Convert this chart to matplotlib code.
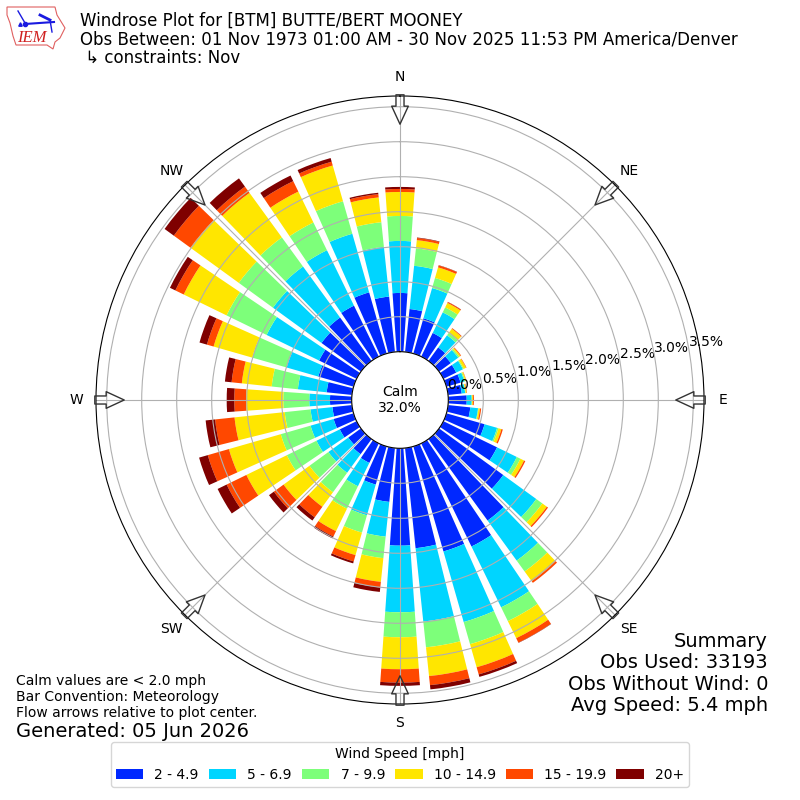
import numpy as np
import matplotlib
matplotlib.use('Agg')
import matplotlib.pyplot as plt
from matplotlib.lines import Line2D
from matplotlib.patches import Polygon

directions = list(range(0, 360, 10))
speed_labels = ['2 - 4.9', '5 - 6.9', '7 - 9.9', '10 - 14.9', '15 - 19.9', '20+']
speed_colors = ['#0028ff', '#00d5ff', '#7dff7a', '#ffe600', '#ff4800', '#7f0000']

# percent of obs by direction, one list per speed bin
speed_2_5 = [.839, .617, .524, .376, .239, .207, .204, .21, .196, .263, .32, .567,
             .853, 1.134, 1.439, 1.639, 1.561, 1.439, 1.391, .774, .567, .31, .267, .224,
             .267, .296, .281, .31, .363, .524, .596, .696, .767, .81, .91, .796]
speed_5_7 = [.743, .621, .45, .327, .214, .131, .106, .057, .05, .071, .111, .186,
             .314, .583, .707, .967, 1.049, 1.053, .951, .499, .457, .371, .329, .351,
             .371, .343, .314, .296, .414, .471, .834, .857, .9, .881, .871, .714]
speed_7_10 = [.357, .251, .15, .079, .04, .021, .014, .014, .007, .004, .007, .021,
              .057, .107, .193, .219, .329, .371, .357, .309, .257, .357, .343, .334,
              .471, .443, .371, .371, .376, .511, .637, .604, .514, .441, .483, .354]
speed_10_15 = [.343, .117, .157, .071, .074, .021, .036, .014, .014, .014, .021, .043,
               .057, .079, .171, .271, .343, .413, .457, .34, .334, .357, .257, .457,
               .643, .771, .721, .533, .429, .574, .681, .853, .786, .491, .531, .356]
speed_15_20 = [.043, .031, .029, .014, .011, .01, .007, .004, .006, .014, .017, .021,
               .021, .021, .029, .071, .106, .13, .191, .081, .094, .086, .186, .171,
               .314, .314, .279, .167, .147, .1, .133, .294, .111, .166, .057, .047]
speed_20_up = [.029, .007, .004, .003, .001, 0, 0, 0, 0, 0, 0, 0,
               0, 0, 0, .004, .037, .061, .047, .064, .029, .029, .057, .086,
               .143, .129, .136, .109, .096, .11, .086, .163, .146, .089, .054, .02]
speed_bins = [speed_2_5, speed_5_7, speed_7_10, speed_10_15, speed_15_20, speed_20_up]

ring_values = [0, .5, 1, 1.5, 2, 2.5, 3, 3.5]
compass = ['N', 'NE', 'E', 'SE', 'S', 'SW', 'W', 'NW']

fig = plt.figure(figsize=(8, 8), dpi=100)
ax = fig.add_axes([0.12, 0.12, 0.76, 0.76], projection='polar')
ax.set_theta_zero_location('N')
ax.set_theta_direction(-1)

theta = np.deg2rad(directions)
bottom = np.zeros(len(directions))
handles = []
for vals, color, label in zip(speed_bins, speed_colors, speed_labels):
    bars = ax.bar(theta, vals, width=np.deg2rad(8), bottom=bottom, color=color, label=label, lw=0)
    handles.append(bars)
    bottom = bottom + np.array(vals)

ax.set_rorigin(-0.69)
ax.set_ylim(0, 3.653)
ax.set_rlabel_position(80)
ax.set_yticks(ring_values)
ax.set_yticklabels([f'{v:.1f}%' for v in ring_values])
ax.set_xticks(np.deg2rad(np.arange(0, 360, 45)))
ax.set_xticklabels(compass)
ax.grid(True)

# flow arrows, pointing at the plot center
for ang in range(0, 360, 45):
    ax.annotate('', xy=(np.deg2rad(ang), 3.25), xytext=(np.deg2rad(ang), 3.67),
                arrowprops=dict(arrowstyle='simple,head_length=0.65,head_width=0.6,tail_width=0.29',
                                mutation_scale=20, fc='none', ec='#333333', lw=1,
                                shrinkA=0, shrinkB=0), annotation_clip=False)

ax.text(0.5, 0.5, 'Calm\n32.0%', transform=ax.transAxes, ha='center', va='center', fontsize=10)

fig.text(80 / 800, 1 - 12 / 800,
         'Windrose Plot for [BTM] BUTTE/BERT MOONEY\n'
         'Obs Between: 01 Nov 1973 01:00 AM - 30 Nov 2025 11:53 PM America/Denver\n'
         ' \u21b3 constraints: Nov', fontsize=12, va='top', linespacing=1.04)

fig.text(16 / 800, 1 - 674 / 800, 'Calm values are < 2.0 mph', fontsize=10, va='top')
fig.text(16 / 800, 1 - 690 / 800, 'Bar Convention: Meteorology', fontsize=10, va='top')
fig.text(16 / 800, 1 - 706 / 800, 'Flow arrows relative to plot center.', fontsize=10, va='top')
fig.text(16 / 800, 1 - 722 / 800, 'Generated: 05 Jun 2026', fontsize=14, va='top')

fig.text(768 / 800, 1 - 632 / 800, 'Summary\nObs Used: 33193\nObs Without Wind: 0\nAvg Speed: 5.4 mph',
         fontsize=14, ha='right', va='top', linespacing=1.15)

fig.legend(handles, speed_labels, ncol=6, loc='lower center', bbox_to_anchor=(0.5, 0.008),
           title='Wind Speed [mph]', fontsize=10, title_fontsize=10, columnspacing=0.7, borderpad=0.35)

# IEM logo
logo = fig.add_axes([0, 1 - 52 / 800, 70 / 800, 52 / 800])
logo.set_xlim(0, 70)
logo.set_ylim(52, 0)
logo.axis('off')
outline = [(7, 7), (55, 7), (57, 15), (65, 28), (60, 38), (55, 42), (53, 49), (47, 45), (16, 45), (13, 36), (10, 23), (7, 15)]
logo.add_patch(Polygon(outline, closed=True, fc='white', ec='#e06060', lw=0.8))
logo.add_line(Line2D([25, 54], [24, 22], color='#1a1ae0', lw=1.5))
logo.add_line(Line2D([40, 50], [15, 20], color='#1a1ae0', lw=2))
logo.add_line(Line2D([18, 25], [11, 23], color='#1a1ae0', lw=1))
logo.add_line(Line2D([50, 52], [20, 32], color='#1a1ae0', lw=1))
logo.plot([25], [24], 'o', color='#1a1ae0', ms=3)
logo.plot([20], [24], '^', color='#1a1ae0', ms=2.5)
logo.text(17, 38, 'IEM', fontsize=12, family='Liberation Serif', style='italic', color='#d02020', va='center')

fig.savefig('out.png', dpi=100)
